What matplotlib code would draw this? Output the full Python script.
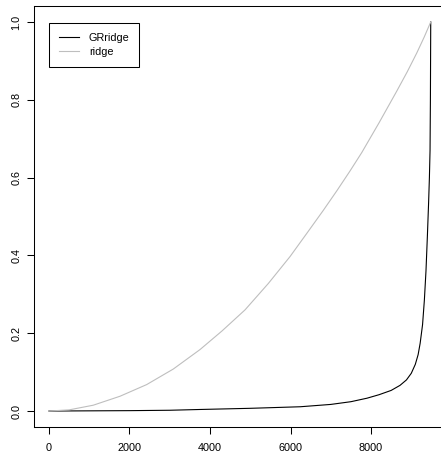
import matplotlib
matplotlib.use('Agg')
import matplotlib.pyplot as plt

plt.rcParams['font.family'] = ['Liberation Sans', 'DejaVu Sans']

# values
ridge_x = [0, 500, 1100, 1764, 2427, 3089, 3752, 4300, 4870, 5450, 5988, 6400,
           6816, 7150, 7478, 7768, 8200, 8638, 8900, 9135, 9320, 9483]
ridge_y = [0.0, 0.003, 0.015, 0.038, 0.068, 0.108, 0.158, 0.206, 0.26, 0.328, 0.397, 0.456,
           0.516, 0.566, 0.617, 0.664, 0.741, 0.822, 0.872, 0.92, 0.961, 1.0]

grridge_x = [0, 1000, 2000, 3000, 3750, 5000, 6240, 7000, 7500, 7900, 8200, 8500, 8720,
             8880, 9000, 9100, 9170, 9220, 9280, 9325, 9365, 9400, 9430, 9450, 9466,
             9475, 9483]
grridge_y = [0.0, 0.0005, 0.001, 0.002, 0.004, 0.007, 0.011, 0.017, 0.024, 0.033, 0.042,
             0.053, 0.066, 0.08, 0.097, 0.12, 0.145, 0.174, 0.222, 0.285, 0.36, 0.45,
             0.535, 0.60, 0.67, 0.80, 1.0]

labels = ['GRridge', 'ridge']
xticks = [0, 2000, 4000, 6000, 8000]
yticks = [0.0, 0.2, 0.4, 0.6, 0.8, 1.0]

W, H = 441, 455
fig = plt.figure(figsize=(W / 100, H / 100), dpi=100)
ax = fig.add_axes([33.7 / W, (H - 426.6) / H, (446 - 33.7) / W, (426.6 - 6.4) / H])

ax.plot(grridge_x, grridge_y, color='black', lw=0.8, label=labels[0])
ax.plot(ridge_x, ridge_y, color='#BEBEBE', lw=0.8, label=labels[1])

xr = max(ridge_x)
ax.set_xlim(-0.04 * xr, 1.04 * xr)
ax.set_ylim(-0.04, 1.04)
ax.set_xticks(xticks)
ax.set_xticklabels([str(t) for t in xticks])
ax.set_yticks(yticks)
ax.set_yticklabels(['%.1f' % t for t in yticks], rotation=90, va='center')

for s in ax.spines.values():
    s.set_linewidth(0.75)
    s.set_color('black')
ax.tick_params(direction='out', length=5, width=0.75, labelsize=7.8, colors='black')
ax.tick_params(axis='x', pad=7)
ax.tick_params(axis='y', pad=4)

leg = ax.legend(loc='upper left', bbox_to_anchor=(49.3 / W, 1 - 23.3 / H),
                bbox_transform=fig.transFigure, fontsize=7.8, frameon=True,
                fancybox=False, framealpha=1, edgecolor='black', borderaxespad=0,
                borderpad=0.9, handlelength=1.85, handletextpad=0.9, labelspacing=0.35)
leg.get_frame().set_linewidth(0.75)

fig.savefig('out.png', dpi=100, facecolor='white')
